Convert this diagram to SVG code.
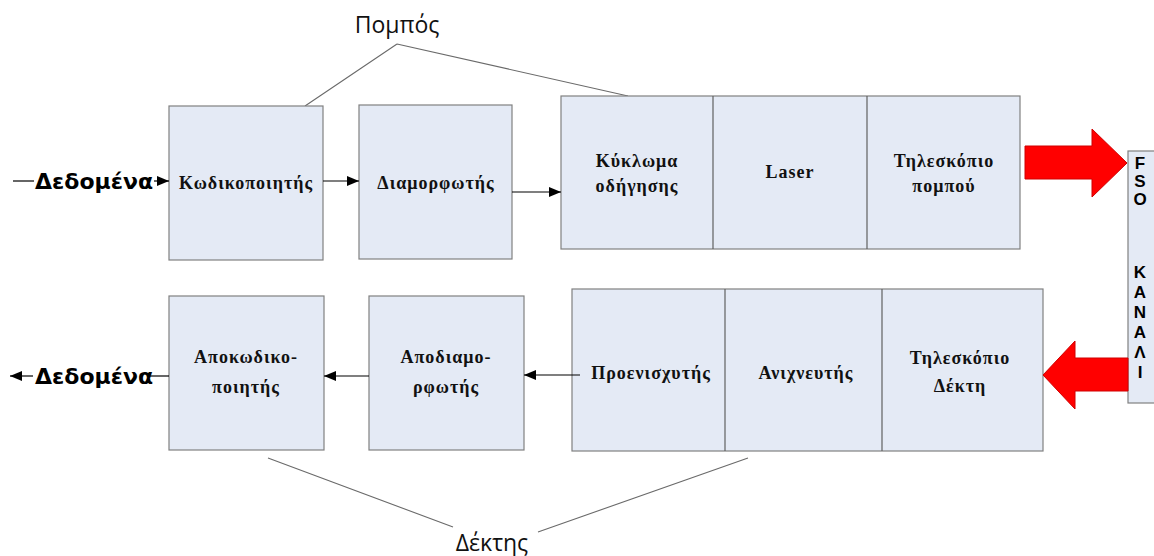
<svg xmlns="http://www.w3.org/2000/svg" width="1154" height="556" viewBox="0 0 1154 556">
  <defs>
    <marker id="ah" viewBox="0 0 12 10" refX="12" refY="5" markerWidth="12" markerHeight="10" markerUnits="userSpaceOnUse" orient="auto">
      <path d="M0,0 L12,5 L0,10 z" fill="#000"/>
    </marker>
    <style>
      .box { fill: #E4EAF5; stroke: #808080; stroke-width: 1.2; }
      .div { stroke: #606060; stroke-width: 1.2; }
      .lbl { font-family: "Liberation Serif", "Times New Roman", serif; font-weight: bold; font-size: 18px; letter-spacing: 1px; fill: #111; text-anchor: middle; }
      .data { font-family: "DejaVu Sans", Verdana, sans-serif; font-weight: bold; font-size: 22px; fill: #000; }
      .grp { font-family: "Open Sans", "Noto Sans", sans-serif; font-size: 23px; fill: #111; text-anchor: middle; }
      .conn { stroke: #000; stroke-width: 1.2; fill: none; }
      .gline { stroke: #6a6a6a; stroke-width: 1.1; fill: none; }
      .fso { font-family: "Liberation Sans", Arial, sans-serif; font-weight: bold; font-size: 17px; fill: #000; text-anchor: middle; }
      .red { fill: #FF0000; stroke: #D00000; stroke-width: 1; }
    </style>
  </defs>
  <rect width="1154" height="556" fill="#fff"/>

  <!-- group labels -->
  <g id="pompos">
    <text class="grp" x="397" y="33">Πομπός</text>
    <path class="gline" d="M397,44 L305,106 M397,44 L628,96"/>
  </g>
  <g id="dektis">
    <text class="grp" x="492" y="551">Δέκτης</text>
    <path class="gline" d="M268,458 L453,527 M538,532 L748,458"/>
  </g>

  <!-- transmitter -->
  <g id="kodikopoiitis">
    <rect class="box" x="169" y="106" width="154" height="154"/>
    <text class="lbl" x="246" y="189">Κωδικοποιητής</text>
  </g>
  <g id="diamorfotis">
    <rect class="box" x="359" y="105" width="153" height="154"/>
    <text class="lbl" x="436" y="189">Διαμορφωτής</text>
  </g>
  <g id="tx-group">
    <rect class="box" x="561" y="96" width="459" height="153"/>
    <line class="div" x1="713" y1="96" x2="713" y2="249"/>
    <line class="div" x1="867" y1="96" x2="867" y2="249"/>
    <text class="lbl" x="637" y="167">Κύκλωμα</text>
    <text class="lbl" x="637" y="192">οδήγησης</text>
    <text class="lbl" x="790" y="178">Laser</text>
    <text class="lbl" x="944" y="167">Τηλεσκόπιο</text>
    <text class="lbl" x="944" y="192">πομπού</text>
  </g>

  <!-- receiver -->
  <g id="apokodikopoiitis">
    <rect class="box" x="169" y="296" width="155" height="154"/>
    <text class="lbl" x="246" y="363">Αποκωδικο-</text>
    <text class="lbl" x="246" y="393">ποιητής</text>
  </g>
  <g id="apodiamorfotis">
    <rect class="box" x="369" y="296" width="155" height="154"/>
    <text class="lbl" x="446" y="363">Αποδιαμο-</text>
    <text class="lbl" x="446" y="393">ρφωτής</text>
  </g>
  <g id="rx-group">
    <rect class="box" x="572" y="289" width="471" height="162"/>
    <line class="div" x1="725" y1="289" x2="725" y2="451"/>
    <line class="div" x1="882" y1="289" x2="882" y2="451"/>
    <text class="lbl" x="651" y="379">Προενισχυτής</text>
    <text class="lbl" x="806" y="379">Ανιχνευτής</text>
    <text class="lbl" x="960" y="364">Τηλεσκόπιο</text>
    <text class="lbl" x="960" y="392">Δέκτη</text>
  </g>

  <!-- FSO channel -->
  <g id="fso-channel">
    <rect class="box" x="1128" y="151" width="40" height="252"/>
    <text class="fso" x="1140" y="169">F</text>
    <text class="fso" x="1140" y="187">S</text>
    <text class="fso" x="1140" y="205">O</text>
    <text class="fso" x="1140" y="278">K</text>
    <text class="fso" x="1140" y="298">A</text>
    <text class="fso" x="1140" y="318">N</text>
    <text class="fso" x="1140" y="338">A</text>
    <text class="fso" x="1140" y="358">Λ</text>
    <text class="fso" x="1140" y="378">I</text>
  </g>

  <!-- data labels -->
  <g id="data-in">
    <text class="data" x="35" y="189">Δεδομένα</text>
  </g>
  <g id="data-out">
    <text class="data" x="35" y="384">Δεδομένα</text>
  </g>

  <!-- connectors -->
  <g id="connectors">
    <line class="conn" x1="13" y1="181" x2="34" y2="181"/>
    <line class="conn" x1="154" y1="181" x2="169" y2="181" marker-end="url(#ah)"/>
    <line class="conn" x1="323" y1="181" x2="359" y2="181" marker-end="url(#ah)"/>
    <line class="conn" x1="512" y1="192" x2="561" y2="192" marker-end="url(#ah)"/>
    <line class="conn" x1="580" y1="375" x2="524" y2="375" marker-end="url(#ah)"/>
    <line class="conn" x1="369" y1="376" x2="324" y2="376" marker-end="url(#ah)"/>
    <line class="conn" x1="169" y1="376" x2="150" y2="376"/>
    <line class="conn" x1="33" y1="376" x2="10" y2="376" marker-end="url(#ah)"/>
    <polygon class="red" points="1025,146 1092,146 1092,129 1127,163 1092,197 1092,179 1025,179"/>
    <polygon class="red" points="1128,358 1075,358 1075,341 1043,375 1075,409 1075,391 1128,391"/>
  </g>
</svg>
